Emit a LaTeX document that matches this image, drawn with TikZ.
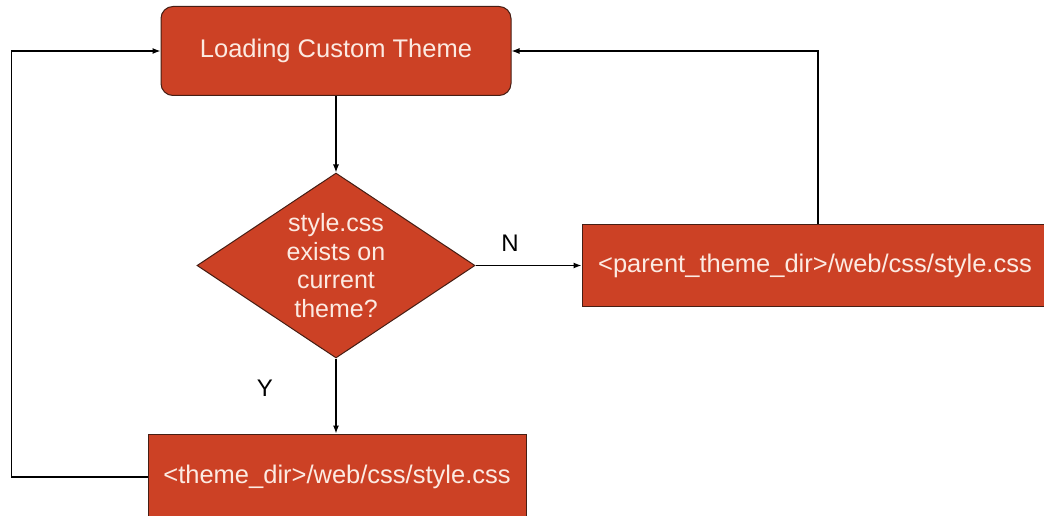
\documentclass[tikz,border=0pt]{standalone}
\usepackage{fontspec}
\setmainfont{Liberation Sans}
\usetikzlibrary{arrows.meta,shapes.geometric}

\definecolor{berry}{RGB}{204,65,37}
\definecolor{berryline}{RGB}{70,30,20}
\definecolor{paletext}{RGB}{252,234,226}

\tikzset{
  stepbox/.style={draw=berryline, fill=berry, text=paletext, line width=1pt,
    inner sep=0pt, font=\fontsize{25.5}{29}\selectfont},
  decision/.style={diamond, aspect=1.5, draw=berryline, fill=berry, text=paletext, line width=1pt,
    inner sep=0pt, minimum width=278pt, minimum height=185pt, align=center,
    font=\fontsize{25}{28.5}\selectfont},
  answer/.style={font=\fontsize{24}{28}\selectfont}
}

\begin{document}
\begin{tikzpicture}[x=1pt, y=-1pt, line width=1.2pt, >={Latex[length=8pt,width=6pt]}]
      \useasboundingbox (0,0) rectangle (1044,516);
      \clip (0,0) rectangle (1044,516);

      % boxes
      \node[stepbox, rounded corners=12pt, minimum width=350pt, minimum height=89pt] (load) at (336,51) {Loading Custom Theme};
      \node[decision] (check) at (336,265.5) {style.css\\exists on\\current\\theme?};
      \node[stepbox, minimum width=472pt, minimum height=82pt] (parent) at (818,265.5) {\hspace*{-6pt}<parent\_theme\_dir>/web/css/style.css};
      \node[stepbox, minimum width=378pt, minimum height=86pt] (own) at (337,477) {<theme\_dir>/web/css/style.css};

      % labels
      \node[answer] (nmark) at (510,243) {N};
      \node[answer] (ymark) at (265,388) {Y};

      % connectors
      \draw[->] (load) -- (check);
      \draw[->] (check) -- (parent);
      \draw[->] (check.south) -- (check.south |- own.north);
      \draw[->] (own.west) -- ++(-136,0) |- (load.west);
      \draw[->] (parent.north) |- (load.east);
\end{tikzpicture}
\end{document}
